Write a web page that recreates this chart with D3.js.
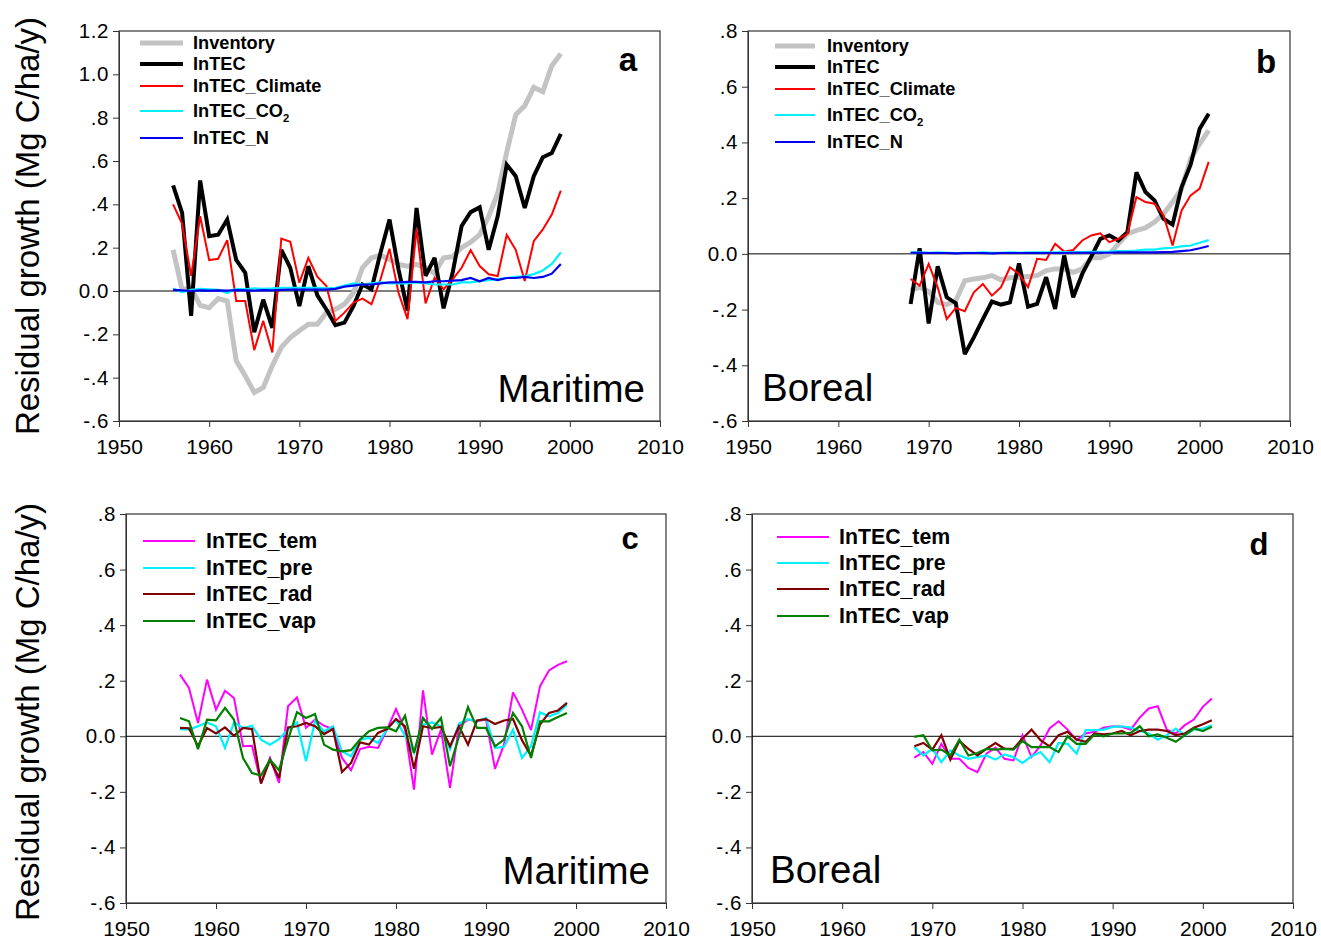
<!DOCTYPE html>
<html>
<head>
<meta charset="utf-8">
<script src="https://cdn.jsdelivr.net/npm/d3@7"></script>
<style>
  html, body { margin: 0; padding: 0; background: #fff; }
  svg { display: block; font-family: "Liberation Sans", Arial, Helvetica, sans-serif; }
</style>
</head>
<body>
<svg id="chart" width="1321" height="942"></svg>
<script>
// ---------------- DATA ----------------
const xTickValues = [1950, 1960, 1970, 1980, 1990, 2000, 2010];
const xTickLabels = ["1950", "1960", "1970", "1980", "1990", "2000", "2010"];

const yTicksA = [1.2, 1.0, 0.8, 0.6, 0.4, 0.2, 0.0, -0.2, -0.4, -0.6];
const yTickLabelsA = ["1.2", "1.0", ".8", ".6", ".4", ".2", "0.0", "-.2", "-.4", "-.6"];
const yTicksB = [0.8, 0.6, 0.4, 0.2, 0.0, -0.2, -0.4, -0.6];
const yTickLabelsB = [".8", ".6", ".4", ".2", "0.0", "-.2", "-.4", "-.6"];

const yAxisTitle = "Residual growth (Mg C/ha/y)";

const maritimeYears = [1956,1957,1958,1959,1960,1961,1962,1963,1964,1965,1966,1967,1968,1969,1970,
  1971,1972,1973,1974,1975,1976,1977,1978,1979,1980,1981,1982,1983,1984,1985,1986,1987,1988,1989,
  1990,1991,1992,1993,1994,1995,1996,1997,1998,1999];
const borealYears = [1968,1969,1970,1971,1972,1973,1974,1975,1976,1977,1978,1979,1980,1981,1982,
  1983,1984,1985,1986,1987,1988,1989,1990,1991,1992,1993,1994,1995,1996,1997,1998,1999,2000,2001];

// Panel a (Maritime)
const maritimeInventory = [0.19,0.005,0.015,-0.066,-0.077,-0.035,-0.046,-0.322,-0.391,-0.468,-0.445,-0.345,
  -0.26,-0.215,-0.184,-0.153,-0.153,-0.10,-0.084,-0.061,-0.008,0.107,0.153,0.164,0.146,0.123,0.115,0.123,
  0.107,0.081,0.153,0.158,0.20,0.225,0.26,0.345,0.45,0.64,0.813,0.855,0.94,0.92,1.04,1.095];
const maritimeInTEC = [0.488,0.36,-0.115,0.51,0.253,0.26,0.33,0.143,0.084,-0.19,-0.04,-0.17,0.19,0.107,
  -0.07,0.115,-0.02,-0.085,-0.158,-0.146,-0.07,0.03,0.008,0.176,0.33,0.10,-0.09,0.383,0.07,0.153,-0.08,
  0.084,0.30,0.364,0.386,0.19,0.345,0.583,0.53,0.383,0.53,0.617,0.637,0.725];
const maritimeClimate = [0.40,0.31,0.07,0.345,0.143,0.149,0.235,-0.046,-0.046,-0.273,-0.138,-0.284,0.242,
  0.227,0.038,0.153,0.066,0.023,-0.138,-0.10,-0.054,-0.035,-0.061,0.054,0.195,-0.008,-0.13,0.287,-0.057,
  0.061,0.008,0.054,0.107,0.189,0.115,0.077,0.069,0.259,0.19,0.046,0.23,0.284,0.353,0.463];
const maritimeCO2 = [0.012,-0.005,0.005,0.01,0.008,0.005,-0.01,0.01,0.008,0.012,0.01,0.012,0.015,0.015,
  0.015,0.015,0.015,0.012,0.015,0.025,0.035,0.03,0.035,0.04,0.035,0.035,0.035,0.04,0.035,0.03,0.03,0.03,
  0.04,0.04,0.045,0.05,0.055,0.06,0.065,0.068,0.078,0.095,0.125,0.178];
const maritimeN = [0.005,0.003,0.0,0.003,0.002,0.003,0.002,0.004,0.003,0.002,0.004,0.003,0.005,0.006,
  0.006,0.007,0.006,0.006,0.01,0.02,0.025,0.03,0.03,0.035,0.04,0.04,0.042,0.042,0.04,0.045,0.045,0.048,
  0.05,0.06,0.045,0.06,0.05,0.06,0.06,0.065,0.06,0.065,0.08,0.125];

// Panel b (Boreal)
const borealInventory = [-0.13,-0.12,-0.134,-0.174,-0.182,-0.168,-0.096,-0.09,-0.086,-0.078,-0.093,-0.086,
  -0.084,-0.081,-0.078,-0.06,-0.054,-0.054,-0.066,-0.054,-0.014,-0.014,0.0,0.036,0.072,0.084,0.093,0.114,
  0.144,0.186,0.234,0.341,0.395,0.443];
const borealInTEC = [-0.18,0.02,-0.25,-0.045,-0.156,-0.177,-0.36,-0.30,-0.234,-0.171,-0.182,-0.174,-0.034,
  -0.19,-0.18,-0.084,-0.198,-0.006,-0.156,-0.072,-0.01,0.054,0.066,0.048,0.078,0.293,0.222,0.192,0.126,
  0.105,0.24,0.32,0.449,0.503];
const borealClimate = [-0.09,-0.114,-0.036,-0.12,-0.234,-0.194,-0.206,-0.138,-0.108,-0.15,-0.12,-0.048,
  -0.072,-0.12,-0.018,-0.022,0.036,0.008,0.014,0.048,0.066,0.074,0.042,0.054,0.072,0.204,0.186,0.18,0.138,
  0.03,0.156,0.21,0.234,0.33];
const borealCO2 = [0.005,0.005,0.004,0.005,0.004,0.003,0.004,0.004,0.005,0.004,0.004,0.005,0.004,0.005,
  0.005,0.005,0.005,0.006,0.006,0.006,0.007,0.007,0.008,0.01,0.01,0.012,0.015,0.015,0.02,0.022,0.027,0.03,
  0.04,0.05];
const borealN = [0.004,0.004,0.003,0.003,0.003,0.002,0.003,0.003,0.003,0.002,0.003,0.003,0.003,0.003,
  0.003,0.003,0.003,0.003,0.004,0.004,0.004,0.004,0.004,0.005,0.005,0.005,0.005,0.005,0.006,0.007,0.01,
  0.013,0.02,0.028];

// Panel c (Maritime climate factors)
const maritimeTem = [0.222,0.174,0.048,0.204,0.096,0.164,0.138,-0.036,-0.034,-0.168,-0.078,-0.168,0.108,
  0.14,0.03,0.06,0.038,0.026,-0.078,-0.122,-0.046,-0.038,-0.042,0.024,0.098,0.024,-0.192,0.165,-0.066,
  0.024,-0.186,0.036,0.06,0.054,0.06,-0.117,-0.03,0.158,0.096,0.022,0.18,0.237,0.257,0.27];
const maritimePre = [0.026,0.024,0.036,0.05,0.036,-0.042,0.05,0.03,0.038,-0.012,-0.03,-0.01,0.024,0.05,
  -0.09,0.054,0.018,0.036,-0.054,-0.072,-0.012,-0.006,-0.024,0.024,0.06,0.002,-0.06,0.042,0.05,0.036,
  -0.046,0.046,0.062,0.054,0.066,-0.042,-0.038,0.024,-0.078,-0.036,0.086,0.072,0.084,0.114];
const maritimeRad = [0.03,0.029,-0.036,0.03,0.01,0.032,0.002,0.03,0.026,-0.17,-0.084,-0.15,0.032,0.036,
  0.048,0.036,0.008,0.026,-0.129,-0.096,-0.022,-0.03,0.012,0.026,0.062,0.036,-0.117,0.036,0.029,0.034,
  -0.036,0.036,-0.03,0.057,0.062,0.044,0.057,0.062,-0.014,-0.07,0.042,0.084,0.093,0.12];
const maritimeVap = [0.066,0.054,-0.046,0.06,0.057,0.102,0.06,-0.078,-0.132,-0.141,-0.084,-0.122,-0.012,
  0.087,0.066,0.08,-0.03,-0.048,-0.054,-0.05,-0.012,0.018,0.03,0.032,0.018,0.074,-0.06,0.066,0.026,0.066,
  -0.108,0.0,0.105,0.03,0.03,-0.036,-0.012,0.084,0.036,-0.078,0.054,0.054,0.069,0.084];

// Panel d (Boreal climate factors)
const borealTem = [-0.077,-0.057,-0.099,-0.027,-0.081,-0.081,-0.114,-0.129,-0.063,-0.041,-0.081,-0.087,
  0.004,-0.075,-0.033,0.028,0.054,0.024,-0.014,0.01,0.016,0.031,0.036,0.034,0.024,0.067,0.10,0.108,0.024,
  0.01,0.04,0.06,0.106,0.136];
const borealPre = [-0.039,-0.069,-0.045,-0.093,-0.051,-0.069,-0.081,-0.075,-0.069,-0.084,-0.065,-0.075,
  -0.096,-0.072,-0.057,-0.093,-0.024,-0.027,-0.063,0.022,0.022,0.024,0.034,0.036,0.031,0.019,0.01,-0.012,
  0.004,0.028,0.004,0.024,0.028,0.04];
const borealRad = [-0.036,-0.024,-0.048,0.004,-0.084,-0.017,-0.045,-0.069,-0.045,-0.024,-0.045,-0.045,
  -0.008,0.024,-0.014,-0.036,0.004,0.016,-0.012,-0.02,0.01,0.007,0.01,0.019,0.004,0.019,0.024,0.024,0.019,
  0.004,0.01,0.031,0.043,0.058];
const borealVap = [-0.002,0.004,-0.051,-0.048,-0.069,-0.012,-0.069,-0.06,-0.045,-0.048,-0.045,-0.048,
  -0.017,-0.039,-0.039,-0.039,-0.057,0.0,-0.027,-0.027,0.007,0.0,0.01,0.01,0.012,0.036,0.0,0.007,-0.005,
  -0.02,0.004,0.028,0.019,0.034];

// ---------------- DRAW ----------------
const svg = d3.select("#chart");
const FONT = '"Liberation Sans", Arial, Helvetica, sans-serif';

const styles = {
  Inventory: { color: "#c3c3c3", width: 5 },
  InTEC: { color: "#000000", width: 4 },
  Climate: { color: "#ff0000", width: 2 },
  CO2: { color: "#00f0ff", width: 2.2 },
  N: { color: "#0000ee", width: 2.2 },
  tem: { color: "#ff00ff", width: 2 },
  pre: { color: "#00f0ff", width: 2.2 },
  rad: { color: "#800000", width: 2.2 },
  vap: { color: "#008000", width: 2.2 }
};

const panels = [
  {
    box: { l: 119, r: 660, t: 31, b: 421 }, yDomain: [-0.6, 1.2], yTicks: yTicksA, yLabels: yTickLabelsA,
    years: maritimeYears, letter: "a", letterPos: [628, 71], letterSize: 33,
    region: "Maritime", regionAnchor: "end", regionPos: [645, 402],
    series: [
      { key: "Inventory", label: "Inventory", values: maritimeInventory },
      { key: "InTEC", label: "InTEC", values: maritimeInTEC },
      { key: "Climate", label: "InTEC_Climate", values: maritimeClimate },
      { key: "CO2", label: "InTEC_CO", sub: "2", values: maritimeCO2 },
      { key: "N", label: "InTEC_N", values: maritimeN }
    ],
    legend: { x1: 140, x2: 183, tx: 193, ys: [43, 64, 86, 111, 138], size: 18.2 }
  },
  {
    box: { l: 748, r: 1290, t: 31, b: 421 }, yDomain: [-0.6, 0.8], yTicks: yTicksB, yLabels: yTickLabelsB,
    years: borealYears, letter: "b", letterPos: [1266, 73], letterSize: 33,
    region: "Boreal", regionAnchor: "start", regionPos: [762, 401],
    series: [
      { key: "Inventory", label: "Inventory", values: borealInventory },
      { key: "InTEC", label: "InTEC", values: borealInTEC },
      { key: "Climate", label: "InTEC_Climate", values: borealClimate },
      { key: "CO2", label: "InTEC_CO", sub: "2", values: borealCO2 },
      { key: "N", label: "InTEC_N", values: borealN }
    ],
    legend: { x1: 775, x2: 815, tx: 827, ys: [46, 67, 89, 115, 142], size: 18.2 }
  },
  {
    box: { l: 126, r: 666, t: 514, b: 903 }, yDomain: [-0.6, 0.8], yTicks: yTicksB, yLabels: yTickLabelsB,
    years: maritimeYears, letter: "c", letterPos: [630, 549], letterSize: 31,
    region: "Maritime", regionAnchor: "end", regionPos: [650, 884],
    series: [
      { key: "tem", label: "InTEC_tem", values: maritimeTem },
      { key: "pre", label: "InTEC_pre", values: maritimePre },
      { key: "rad", label: "InTEC_rad", values: maritimeRad },
      { key: "vap", label: "InTEC_vap", values: maritimeVap }
    ],
    legend: { x1: 143, x2: 195, tx: 206, ys: [541, 568, 594, 621], size: 21.3 }
  },
  {
    box: { l: 752, r: 1293, t: 514, b: 903 }, yDomain: [-0.6, 0.8], yTicks: yTicksB, yLabels: yTickLabelsB,
    years: borealYears, letter: "d", letterPos: [1259, 555], letterSize: 31,
    region: "Boreal", regionAnchor: "start", regionPos: [770, 883],
    series: [
      { key: "tem", label: "InTEC_tem", values: borealTem },
      { key: "pre", label: "InTEC_pre", values: borealPre },
      { key: "rad", label: "InTEC_rad", values: borealRad },
      { key: "vap", label: "InTEC_vap", values: borealVap }
    ],
    legend: { x1: 777, x2: 829, tx: 839, ys: [537, 563, 589, 616], size: 21.3 }
  }
];

panels.forEach(p => {
  const { l, r, t, b } = p.box;
  const x = d3.scaleLinear().domain([1950, 2010]).range([l, r]);
  const y = d3.scaleLinear().domain(p.yDomain).range([b, t]);
  const g = svg.append("g");

  // frame
  g.append("rect").attr("x", l).attr("y", t).attr("width", r - l).attr("height", b - t)
    .attr("fill", "none").attr("stroke", "#333").attr("stroke-width", 1.2);

  // x axis
  const xAxis = d3.axisBottom(x).tickValues(xTickValues)
    .tickFormat((d, i) => xTickLabels[i]).tickSize(6).tickSizeOuter(0).tickPadding(12);
  const xg = g.append("g").attr("transform", `translate(0,${b})`).call(xAxis);
  xg.select(".domain").attr("stroke", "#333");
  xg.selectAll(".tick line").attr("stroke", "#333");
  xg.selectAll("text").attr("font-family", FONT).attr("font-size", 21).attr("fill", "#000");

  // y axis
  const yAxis = d3.axisLeft(y).tickValues(p.yTicks)
    .tickFormat((d, i) => p.yLabels[i]).tickSize(6).tickSizeOuter(0).tickPadding(4);
  const yg = g.append("g").attr("transform", `translate(${l},0)`).call(yAxis);
  yg.select(".domain").attr("stroke", "#333");
  yg.selectAll(".tick line").attr("stroke", "#333");
  yg.selectAll("text").attr("font-family", FONT).attr("font-size", 20.5)
    .attr("letter-spacing", "0.6px").attr("fill", "#000");

  // zero line
  g.append("line").attr("x1", l).attr("x2", r).attr("y1", y(0)).attr("y2", y(0))
    .attr("stroke", "#000").attr("stroke-width", 1);

  // series lines
  const line = d3.line().x(d => x(d[0])).y(d => y(d[1]));
  p.series.forEach(s => {
    const st = styles[s.key];
    const pts = p.years.map((yr, i) => [yr, s.values[i]]);
    g.append("path").datum(pts).attr("d", line).attr("fill", "none")
      .attr("stroke", st.color).attr("stroke-width", st.width)
      .attr("stroke-linejoin", "miter").attr("stroke-miterlimit", 3);
  });

  // legend
  p.series.forEach((s, i) => {
    const st = styles[s.key];
    const yy = p.legend.ys[i];
    g.append("line").attr("x1", p.legend.x1).attr("x2", p.legend.x2).attr("y1", yy).attr("y2", yy)
      .attr("stroke", st.color).attr("stroke-width", st.width);
    const tx = g.append("text").attr("x", p.legend.tx).attr("y", yy).attr("dy", "0.35em")
      .attr("font-family", FONT).attr("font-weight", "bold").attr("font-size", p.legend.size)
      .attr("fill", "#000").text(s.label);
    if (s.sub) {
      tx.append("tspan").attr("font-size", p.legend.size * 0.62).attr("dy", "0.45em").text(s.sub);
    }
  });

  // panel letter
  g.append("text").attr("x", p.letterPos[0]).attr("y", p.letterPos[1]).attr("text-anchor", "middle")
    .attr("font-family", FONT).attr("font-weight", "bold").attr("font-size", p.letterSize)
    .attr("fill", "#000").text(p.letter);

  // region label
  g.append("text").attr("x", p.regionPos[0]).attr("y", p.regionPos[1]).attr("text-anchor", p.regionAnchor)
    .attr("font-family", FONT).attr("font-size", 38.5).attr("fill", "#000").text(p.region);
});

// y-axis titles
[226, 712].forEach(cy => {
  svg.append("text").attr("transform", `translate(39,${cy}) rotate(-90)`)
    .attr("text-anchor", "middle").attr("font-family", FONT).attr("font-size", 33)
    .attr("fill", "#000").text(yAxisTitle);
});
</script>
</body>
</html>
